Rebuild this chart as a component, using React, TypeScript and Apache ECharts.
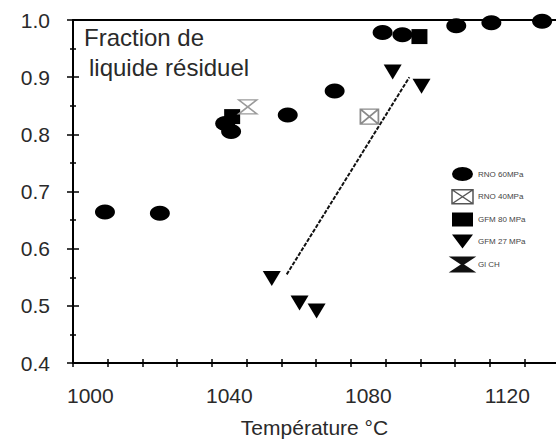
import React, { useEffect, useRef } from "react";
import * as echarts from "echarts";

// RNO 60MPa (filled circles)
const rno60T = [1004.2, 1020.0, 1038.8, 1040.5, 1056.8, 1070.3, 1084.1, 1089.8, 1105.3, 1115.4, 1130.0];
const rno60V = [0.664, 0.662, 0.819, 0.805, 0.834, 0.876, 0.978, 0.974, 0.99, 0.995, 0.998];
// RNO 40MPa (open square with cross)
const rno40T = [1080.3];
const rno40V = [0.831];
// GFM 80 MPa (filled squares)
const gfm80T = [1040.8, 1094.7];
const gfm80V = [0.831, 0.971];
// GFM 27 MPa (down triangles)
const gfm27T = [1052.2, 1060.2, 1065.1, 1087.0, 1095.3];
const gfm27V = [0.548, 0.505, 0.491, 0.909, 0.884];
// Gl CH (hourglass)
const glchT = [1045.3];
const glchV = [0.848];
// trend line
const trendT = [1056.5, 1091.8];
const trendV = [0.555, 0.9];

const xLabels = [1000, 1040, 1080, 1120];
const xTicks = [995, 1005, 1015, 1025, 1035, 1045, 1055, 1065, 1075, 1085, 1095, 1105, 1115, 1125];
const xMin = 995;
const xMax = 1134;
const yMin = 0.4;
const yMax = 1.0;

const seriesNames = ["RNO 60MPa", "RNO 40MPa", "GFM 80 MPa", "GFM 27 MPa", "Gl CH"];

const zip = (a: number[], b: number[]) => a.map((v, i) => [v, b[i]]);

const FONT = "Liberation Sans";
const TXT = "#2a2a2a";
const INK = "#000";

const crossSquare = "path://M0,0 L10,0 L10,10 L0,10 Z M0,0 L10,10 M10,0 L0,10";
const hourglass = "path://M0,0 L10,0 L0,10 L10,10 Z";
const downTri = "path://M0,0 L10,0 L5,9 Z";
const ellipseIcon = "path://M0,5 A10,5 0 1,0 20,5 A10,5 0 1,0 0,5 Z";

export default function App() {
  const ref = useRef<HTMLDivElement>(null);
  useEffect(() => {
    if (!ref.current) return;
    const chart = echarts.init(ref.current, undefined, { renderer: "svg" });
    const mkLine = () => ({ show: true, onZero: false, lineStyle: { color: INK, width: 2, opacity: 1 } });
    const mkTick = (inside: boolean, len: number) => ({
      show: true,
      inside,
      length: len,
      lineStyle: { color: INK, width: 1.5, opacity: 1 },
    });
    chart.setOption({
      animation: false,
      backgroundColor: "#fff",
      grid: { left: 73, top: 20, right: 0, bottom: 75, containLabel: false },
      graphic: [
        {
          type: "text",
          left: 84,
          top: 25,
          style: { text: "Fraction de", font: `24px ${FONT}`, fill: TXT },
        },
        {
          type: "text",
          left: 89,
          top: 55,
          style: { text: "liquide résiduel", font: `24px ${FONT}`, fill: TXT },
        },
      ],
      legend: {
        orient: "vertical",
        left: 446,
        top: 162,
        itemWidth: 21,
        itemHeight: 14,
        itemGap: 8,
        symbolKeepAspect: false,
        textStyle: { fontFamily: FONT, fontSize: 8, color: "#444" },
        data: [
          { name: seriesNames[0], icon: ellipseIcon },
          { name: seriesNames[1], itemStyle: { color: "#fff", borderColor: "#555", borderWidth: 1.5 } },
          { name: seriesNames[2] },
          { name: seriesNames[3] },
          { name: seriesNames[4], itemStyle: { color: "#111", borderColor: "#111" } },
        ],
      },
      xAxis: [
        {
          type: "value",
          min: xMin,
          max: xMax,
          position: "bottom",
          name: "Température °C",
          nameLocation: "middle",
          nameGap: 54,
          nameTextStyle: { fontFamily: FONT, fontSize: 21, color: TXT },
          splitLine: { show: false },
          axisLine: mkLine(),
          axisTick: { ...mkTick(false, 4), customValues: xTicks },
          axisLabel: {
            customValues: xLabels,
            fontFamily: FONT,
            fontSize: 21,
            color: TXT,
            margin: 22,
            formatter: (v: number) => String(v),
          },
        },
        {
          type: "value",
          min: xMin,
          max: xMax,
          position: "bottom",
          splitLine: { show: false },
          axisLine: { show: false },
          axisTick: { ...mkTick(true, 4), customValues: xTicks },
          axisLabel: { show: false },
        },
        {
          type: "value",
          min: xMin,
          max: xMax,
          position: "top",
          splitLine: { show: false },
          axisLine: mkLine(),
          axisTick: { show: false },
          axisLabel: { show: false },
        },
      ],
      yAxis: [
        {
          type: "value",
          min: yMin,
          max: yMax,
          interval: 0.1,
          position: "left",
          splitLine: { show: false },
          axisLine: mkLine(),
          axisTick: mkTick(false, 6),
          minorTick: { show: true, splitNumber: 2, length: 3, lineStyle: { color: INK, width: 1.5 } },
          axisLabel: {
            fontFamily: FONT,
            fontSize: 21,
            color: TXT,
            margin: 23,
            formatter: (v: number) => v.toFixed(1),
          },
        },
        {
          type: "value",
          min: yMin,
          max: yMax,
          interval: 0.1,
          position: "left",
          splitLine: { show: false },
          axisLine: { show: false },
          axisTick: mkTick(true, 6),
          minorTick: { show: true, splitNumber: 2, length: 3, lineStyle: { color: INK, width: 1.5 } },
          axisLabel: { show: false },
        },
      ],
      series: [
        {
          name: "trend",
          type: "line",
          data: zip(trendT, trendV),
          symbol: "none",
          lineStyle: { color: "#111", width: 2, type: [4, 1.5] },
          z: 1,
        },
        {
          name: seriesNames[0],
          type: "scatter",
          data: zip(rno60T, rno60V),
          symbol: "circle",
          symbolSize: [20, 15],
          itemStyle: { color: INK, opacity: 1 },
          z: 3,
        },
        {
          name: seriesNames[1],
          type: "scatter",
          data: zip(rno40T, rno40V),
          symbol: crossSquare,
          symbolSize: [18, 15],
          itemStyle: { color: "#fff", borderColor: "#8a8a8a", borderWidth: 1.6, opacity: 1 },
          z: 3,
        },
        {
          name: seriesNames[2],
          type: "scatter",
          data: zip(gfm80T, gfm80V),
          symbol: "rect",
          symbolSize: [16, 15],
          itemStyle: { color: INK, opacity: 1 },
          z: 3,
        },
        {
          name: seriesNames[3],
          type: "scatter",
          data: zip(gfm27T, gfm27V),
          symbol: downTri,
          symbolSize: [18, 15],
          itemStyle: { color: INK, opacity: 1 },
          z: 3,
        },
        {
          name: seriesNames[4],
          type: "scatter",
          data: zip(glchT, glchV),
          symbol: hourglass,
          symbolSize: [18, 14],
          itemStyle: { color: "#fff", borderColor: "#9a9a9a", borderWidth: 1.6, opacity: 1 },
          z: 3,
        },
      ],
    });
    return () => chart.dispose();
  }, []);
  return <div ref={ref} style={{ width: 556, height: 443, position: "absolute", left: 0, top: 0 }} />;
}
